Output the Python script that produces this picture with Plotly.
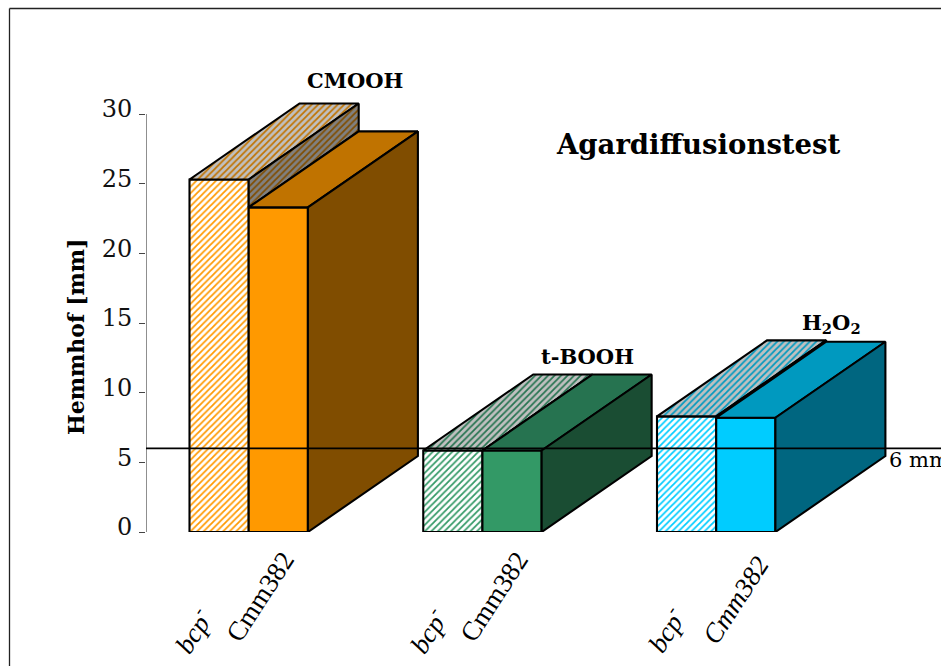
import plotly.graph_objects as go

# ---- data ----
groups = ["CMOOH", "t-BOOH", "H<sub>2</sub>O<sub>2</sub>"]
bcp_values = [25.3, 5.85, 8.3]
cmm_values = [23.3, 5.85, 8.2]
threshold = 6
threshold_label = "6 mm"
y_ticks = [0, 5, 10, 15, 20, 25, 30]
strain_labels = ["bcp<sup>-</sup>", "Cmm382"]
cmm_italic = [False, False, True]

front_colors = ["#FF9900", "#339966", "#00CCFF"]
top_colors = ["#C07300", "#267350", "#0099BF"]
side_colors = ["#804D00", "#1A4D33", "#006680"]
HATCH_TOP_BG = "#C0C0C0"
HATCH_SIDE_BG = "#808080"

# ---- pixel geometry of the page ----
W, H = 941, 666
L, R_EDGE, PLOT_TOP, BOTTOM = 146, 941, 10, 532
PX_X = 59.2          # px per bar width
X0_PX = 189.5        # px of x = 0
GROUP_STEP = 233.75 / PX_X
DEPTH_X = 110 / PX_X
PX_Y = (532 - 114) / 30
DEPTH_Y = 76 / PX_Y
EDGE = dict(color="black", width=2.1)
AXIS_COLOR = "#444"
FONT = "DejaVu Serif"
HATCH = dict(shape="/", size=4.6, solidity=0.38, fgopacity=1, fillmode="replace")


def poly(xs, ys, fill, fg=None):
    kw = dict(fillpattern=dict(fgcolor=fg, bgcolor=fill, **HATCH)) if fg else dict(fillcolor=fill)
    return go.Scatter(x=xs + xs[:1], y=ys + ys[:1], mode="lines", fill="toself", line=EDGE,
                      cliponaxis=False, hoverinfo="skip", showlegend=False, **kw)


fig = go.Figure()

for i, g in enumerate(groups):
    x = i * GROUP_STEP
    a, b = bcp_values[i], cmm_values[i]
    # front faces, through the bar scale
    fig.add_trace(go.Bar(x=[x + 0.5], y=[a], width=[1], cliponaxis=False, showlegend=False,
                         marker=dict(color="white", line=EDGE,
                                     pattern=dict(fgcolor=front_colors[i], bgcolor="white", **HATCH))))
    fig.add_trace(go.Bar(x=[x + 1.5], y=[b], width=[1], cliponaxis=False, showlegend=False,
                         marker=dict(color=front_colors[i], line=EDGE)))
    # hatched bar: top and exposed side
    fig.add_trace(poly([x, x + 1, x + 1 + DEPTH_X, x + DEPTH_X], [a, a, a + DEPTH_Y, a + DEPTH_Y],
                       HATCH_TOP_BG, top_colors[i]))
    fig.add_trace(poly([x + 1, x + 1 + DEPTH_X, x + 1 + DEPTH_X, x + 1], [a, a + DEPTH_Y, b + DEPTH_Y, b],
                       HATCH_SIDE_BG, side_colors[i]))
    # solid bar: top and side
    fig.add_trace(poly([x + 1, x + 2, x + 2 + DEPTH_X, x + 1 + DEPTH_X], [b, b, b + DEPTH_Y, b + DEPTH_Y],
                       top_colors[i]))
    fig.add_trace(poly([x + 2, x + 2 + DEPTH_X, x + 2 + DEPTH_X, x + 2], [0, DEPTH_Y, b + DEPTH_Y, b],
                       side_colors[i]))

x_lo = (L - X0_PX) / PX_X
x_hi = (R_EDGE - X0_PX) / PX_X

# value axis line stops at the top tick
fig.add_trace(go.Scatter(x=[x_lo, x_lo], y=[y_ticks[0], y_ticks[-1]], mode="lines",
                         line=dict(color=AXIS_COLOR, width=1.2), cliponaxis=False,
                         hoverinfo="skip", showlegend=False))
fig.add_trace(go.Scatter(x=[x_lo, x_hi], y=[threshold, threshold], mode="lines",
                         line=dict(color="black", width=1.6), cliponaxis=False,
                         hoverinfo="skip", showlegend=False))

span_x, span_y = R_EDGE - L, BOTTOM - PLOT_TOP


def note(text, px, py, size, bold=False, italic=False, angle=0, anchor="center", family=FONT):
    """Text placed at page pixel (px, py)."""
    return dict(text=text, x=(px - L) / span_x, y=(BOTTOM - py) / span_y, xref="paper", yref="paper",
                xanchor=anchor, yanchor="middle", showarrow=False, textangle=angle,
                font=dict(family=family, size=size, color="black",
                          weight="bold" if bold else "normal",
                          style="italic" if italic else "normal"))


annotations = [
    note(groups[0], 355, 80, 21, bold=True),
    note(groups[1], 587, 356, 21, bold=True),
    note(groups[2], 831, 323, 21, bold=True),
    note("Agardiffusionstest", 698, 144, 27.5, bold=True),
    note("Hemmhof [mm]", 76, 337, 22, bold=True, angle=-90),
    note(threshold_label, 887, 460, 21, anchor="left"),
]
bcp_px = [(192, 631), (427, 631), (665, 630)]
cmm_px = [(260, 597), (494, 597), (736, 600)]
for i in range(3):
    annotations.append(note(strain_labels[0], *bcp_px[i], 27, italic=True, angle=-57, family="Liberation Serif"))
    annotations.append(note(strain_labels[1], *cmm_px[i], 27, italic=cmm_italic[i], angle=-57, family="Liberation Serif"))

fx = (9.5 - L) / span_x
fy = (BOTTOM - 8.5) / span_y
fy0 = (BOTTOM - H) / span_y
fx1 = (W - L) / span_x
frame = [
    dict(type="line", xref="paper", yref="paper", x0=fx, x1=fx, y0=fy0, y1=fy, line=dict(color="#222", width=1.3)),
    dict(type="line", xref="paper", yref="paper", x0=fx, x1=fx1, y0=fy, y1=fy, line=dict(color="#222", width=1.3)),
]

fig.update_layout(
    width=W, height=H, autosize=False, barmode="overlay",
    margin=dict(l=L, r=W - R_EDGE, t=PLOT_TOP, b=H - BOTTOM, pad=0),
    paper_bgcolor="white", plot_bgcolor="white",
    showlegend=False, annotations=annotations, shapes=frame,
    xaxis=dict(range=[x_lo, x_hi], visible=False, showgrid=False, zeroline=False),
    yaxis=dict(range=[0, span_y / PX_Y], tickvals=y_ticks, ticks="outside", ticklen=6, tickwidth=1.2,
               tickcolor=AXIS_COLOR, showline=False, showgrid=False, zeroline=False,
               ticklabelshift=-5, ticklabelstandoff=2,
               tickfont=dict(family=FONT, size=24, color="#111")),
)

fig.write_html("out.html", config=dict(displayModeBar=False),
               post_script="document.body.style.margin='0';document.body.style.overflow='hidden';")
